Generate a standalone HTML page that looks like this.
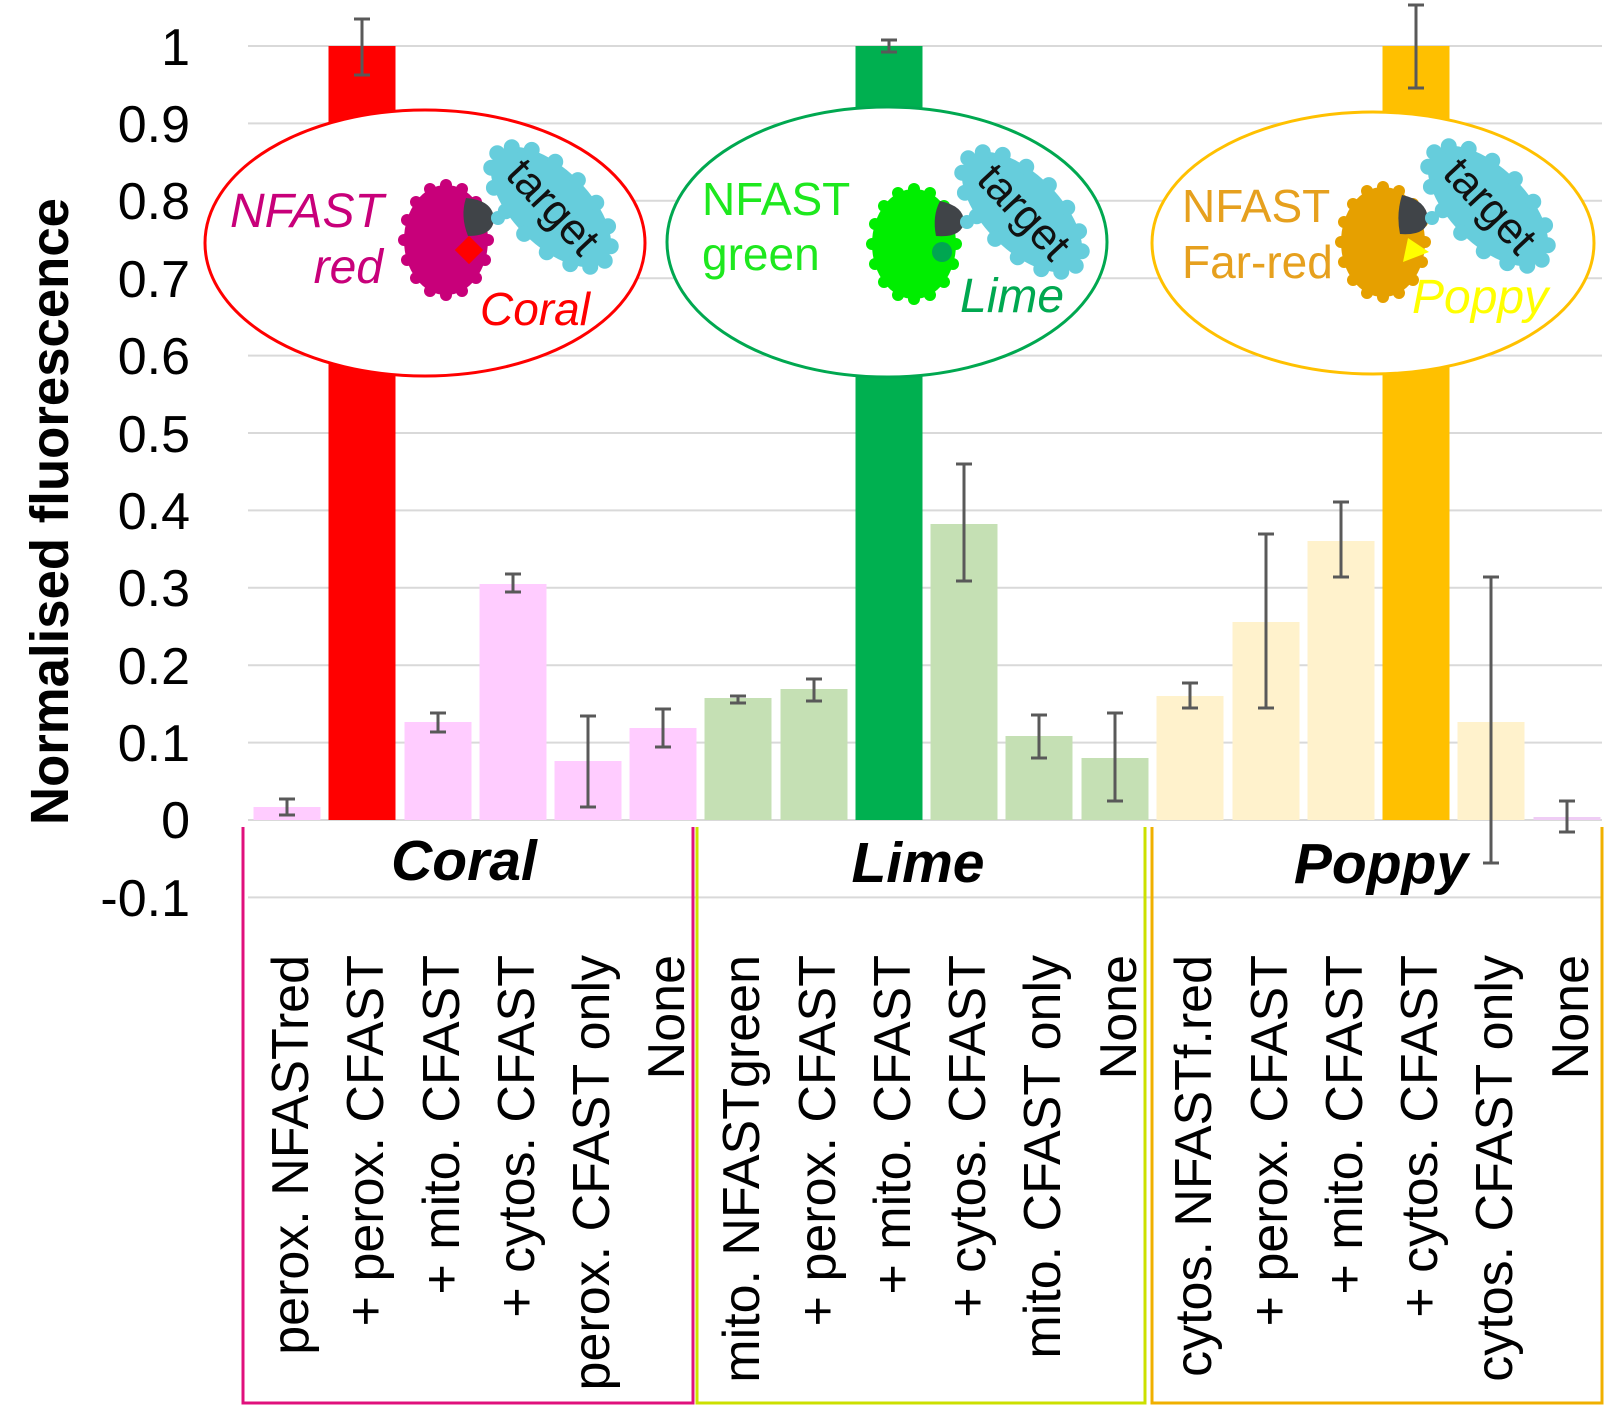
<!DOCTYPE html>
<html>
<head>
<meta charset="utf-8">
<style>
  html, body { margin: 0; padding: 0; background: #ffffff; }
  svg { display: block; }
  text { font-family: "Liberation Sans", Arial, sans-serif; }
</style>
</head>
<body>
<svg width="1611" height="1408" viewBox="0 0 1611 1408" xmlns="http://www.w3.org/2000/svg">
  <defs>
    <g id="blob">
      <ellipse cx="0" cy="0" rx="42" ry="55"/>
      <circle cx="42" cy="0" r="6"/><circle cx="39" cy="20" r="6"/><circle cx="30" cy="38" r="6"/><circle cx="16" cy="51" r="6"/>
      <circle cx="0" cy="55" r="6"/><circle cx="-16" cy="51" r="6"/><circle cx="-30" cy="38" r="6"/><circle cx="-39" cy="20" r="6"/>
      <circle cx="-42" cy="0" r="6"/><circle cx="-39" cy="-20" r="6"/><circle cx="-30" cy="-38" r="6"/><circle cx="-16" cy="-51" r="6"/>
      <circle cx="0" cy="-55" r="6"/><circle cx="16" cy="-51" r="6"/><circle cx="30" cy="-38" r="6"/><circle cx="39" cy="-20" r="6"/>
    </g>
    <g id="cloud">
      <ellipse cx="0" cy="0" rx="76" ry="38"/>
      <circle cx="76" cy="0" r="8"/><circle cx="70" cy="14.5" r="8"/><circle cx="54" cy="26.7" r="8"/><circle cx="29" cy="35" r="8"/>
      <circle cx="0" cy="38" r="8"/><circle cx="-29" cy="35" r="8"/><circle cx="-54" cy="26.7" r="8"/><circle cx="-70" cy="14.5" r="8"/>
      <circle cx="-76" cy="0" r="8"/><circle cx="-70" cy="-14.5" r="8"/><circle cx="-54" cy="-26.7" r="8"/><circle cx="-29" cy="-35" r="8"/>
      <circle cx="0" cy="-38" r="8"/><circle cx="29" cy="-35" r="8"/><circle cx="54" cy="-26.7" r="8"/><circle cx="70" cy="-14.5" r="8"/>
    </g>
  </defs>
  <rect x="0" y="0" width="1611" height="1408" fill="#ffffff"/>

  <!-- gridlines -->
  <g stroke="#d9d9d9" stroke-width="2">
    <line x1="248" y1="46" x2="1602" y2="46"/>
    <line x1="248" y1="123.4" x2="1602" y2="123.4"/>
    <line x1="248" y1="200.8" x2="1602" y2="200.8"/>
    <line x1="248" y1="278.2" x2="1602" y2="278.2"/>
    <line x1="248" y1="355.6" x2="1602" y2="355.6"/>
    <line x1="248" y1="433" x2="1602" y2="433"/>
    <line x1="248" y1="510.4" x2="1602" y2="510.4"/>
    <line x1="248" y1="587.8" x2="1602" y2="587.8"/>
    <line x1="248" y1="665.2" x2="1602" y2="665.2"/>
    <line x1="248" y1="742.6" x2="1602" y2="742.6"/>
    <line x1="248" y1="820" x2="1602" y2="820"/>
    <line x1="248" y1="897.4" x2="1602" y2="897.4"/>
  </g>

  <!-- y tick labels -->
  <g font-size="52" fill="#000" text-anchor="end">
    <text x="190" y="65">1</text>
    <text x="190" y="142">0.9</text>
    <text x="190" y="219">0.8</text>
    <text x="190" y="297">0.7</text>
    <text x="190" y="374">0.6</text>
    <text x="190" y="452">0.5</text>
    <text x="190" y="529">0.4</text>
    <text x="190" y="606">0.3</text>
    <text x="190" y="684">0.2</text>
    <text x="190" y="761">0.1</text>
    <text x="190" y="838">0</text>
    <text x="190" y="916">-0.1</text>
  </g>

  <!-- y axis title -->
  <text transform="translate(68,511.5) rotate(-90)" text-anchor="middle" font-size="54" font-weight="bold" fill="#000" textLength="627" lengthAdjust="spacingAndGlyphs">Normalised fluorescence</text>

  <!-- bars -->
  <g>
    <rect x="253.5" y="807" width="67" height="13" fill="#ffccff"/>
    <rect x="328.5" y="46" width="67" height="774" fill="#ff0000"/>
    <rect x="404.5" y="722" width="67" height="98" fill="#ffccff"/>
    <rect x="479.5" y="584" width="67" height="236" fill="#ffccff"/>
    <rect x="554.5" y="761" width="67" height="59" fill="#ffccff"/>
    <rect x="629.5" y="728" width="67" height="92" fill="#ffccff"/>

    <rect x="704.5" y="698" width="67" height="122" fill="#c5e0b4"/>
    <rect x="780.5" y="689" width="67" height="131" fill="#c5e0b4"/>
    <rect x="855.5" y="46" width="67" height="774" fill="#00b050"/>
    <rect x="930.5" y="524" width="67" height="296" fill="#c5e0b4"/>
    <rect x="1005.5" y="736" width="67" height="84" fill="#c5e0b4"/>
    <rect x="1081.5" y="758" width="67" height="62" fill="#c5e0b4"/>

    <rect x="1156.5" y="696" width="67" height="124" fill="#fff2cc"/>
    <rect x="1232.5" y="622" width="67" height="198" fill="#fff2cc"/>
    <rect x="1307.5" y="541" width="67" height="279" fill="#fff2cc"/>
    <rect x="1382.5" y="46" width="67" height="774" fill="#ffc000"/>
    <rect x="1457.5" y="722" width="67" height="98" fill="#fff2cc"/>
    <rect x="1533.5" y="817" width="67" height="3" fill="#efcdf5"/>
  </g>

  <!-- category boxes -->
  <g fill="none" stroke-width="3">
    <polyline points="243,827 243,1403 693,1403 693,827" stroke="#e0107c"/>
    <polyline points="697,827 697,1403 1145,1403 1145,827" stroke="#cce000"/>
    <polyline points="1152,827 1152,1403 1602,1403 1602,827" stroke="#f0b000"/>
  </g>

  <!-- category names -->
  <g font-size="57" font-weight="bold" font-style="italic" fill="#000" text-anchor="middle">
    <text x="464" y="880">Coral</text>
    <text x="918" y="882">Lime</text>
    <text x="1381" y="883">Poppy</text>
  </g>

  <!-- x labels (rotated) -->
  <g font-size="52" fill="#000" text-anchor="end">
    <text transform="translate(308,955) rotate(-90)">perox. NFASTred</text>
    <text transform="translate(383,955) rotate(-90)">+ perox. CFAST</text>
    <text transform="translate(459,955) rotate(-90)">+ mito. CFAST</text>
    <text transform="translate(534,955) rotate(-90)">+ cytos. CFAST</text>
    <text transform="translate(609,955) rotate(-90)">perox. CFAST only</text>
    <text transform="translate(684,955) rotate(-90)">None</text>

    <text transform="translate(759,955) rotate(-90)">mito. NFASTgreen</text>
    <text transform="translate(835,955) rotate(-90)">+ perox. CFAST</text>
    <text transform="translate(910,955) rotate(-90)">+ mito. CFAST</text>
    <text transform="translate(985,955) rotate(-90)">+ cytos. CFAST</text>
    <text transform="translate(1060,955) rotate(-90)">mito. CFAST only</text>
    <text transform="translate(1136,955) rotate(-90)">None</text>

    <text transform="translate(1211,955) rotate(-90)">cytos. NFASTf.red</text>
    <text transform="translate(1287,955) rotate(-90)">+ perox. CFAST</text>
    <text transform="translate(1362,955) rotate(-90)">+ mito. CFAST</text>
    <text transform="translate(1437,955) rotate(-90)">+ cytos. CFAST</text>
    <text transform="translate(1512,955) rotate(-90)">cytos. CFAST only</text>
    <text transform="translate(1588,955) rotate(-90)">None</text>
  </g>

  <!-- ===== Ellipses with diagrams ===== -->
  <!-- Coral -->
  <ellipse cx="425" cy="243" rx="220" ry="133" fill="#ffffff" stroke="#ff0000" stroke-width="3"/>
  <g font-size="48" font-style="italic" fill="#c8007a">
    <text x="230" y="227">NFAST</text>
    <text x="383" y="283" text-anchor="end">red</text>
  </g>
  <use href="#blob" transform="translate(446,240)" fill="#c8007a"/>
  <path d="M466,198 Q492,200 494,218 Q494,236 468,236 Q460,216 466,198 Z" fill="#404448"/>
  <rect x="459" y="240" width="20" height="20" fill="#ff0000" transform="rotate(45 469 250)"/>
  <circle cx="498" cy="218" r="7" fill="#66cddc"/>
  <use href="#cloud" transform="translate(551,207) rotate(45)" fill="#66cddc"/>
  <text transform="translate(553,207) rotate(47)" text-anchor="middle" dominant-baseline="central" font-size="44" fill="#111">target</text>
  <text x="480" y="325" font-size="46" font-style="italic" fill="#ff0000">Coral</text>

  <!-- Lime -->
  <ellipse cx="887" cy="242" rx="220" ry="135" fill="#ffffff" stroke="#00a850" stroke-width="3"/>
  <g font-size="46" fill="#1ee81e">
    <text x="702" y="215">NFAST</text>
    <text x="702" y="270">green</text>
  </g>
  <use href="#blob" transform="translate(914,244)" fill="#00ee00"/>
  <path d="M940,201 Q964,206 964,222 Q962,238 936,236 Q932,216 940,201 Z" fill="#404448"/>
  <circle cx="942" cy="252" r="10" fill="#00a651"/>
  <circle cx="967" cy="222" r="7" fill="#66cddc"/>
  <use href="#cloud" transform="translate(1022,212) rotate(45)" fill="#66cddc"/>
  <text transform="translate(1024,212) rotate(47)" text-anchor="middle" dominant-baseline="central" font-size="44" fill="#111">target</text>
  <text x="960" y="312" font-size="48" font-style="italic" fill="#00a850">Lime</text>

  <!-- Poppy -->
  <ellipse cx="1373" cy="243" rx="221" ry="131" fill="#ffffff" stroke="#ffc000" stroke-width="3"/>
  <g font-size="46" fill="#e6a01e">
    <text x="1182" y="222">NFAST</text>
    <text x="1182" y="278">Far-red</text>
  </g>
  <use href="#blob" transform="translate(1383,242)" fill="#e6a000"/>
  <path d="M1402,195 Q1426,200 1428,218 Q1428,236 1400,234 Q1396,214 1402,195 Z" fill="#404448"/>
  <polygon points="1408,238 1429,252 1403,262" fill="#ffff00"/>
  <circle cx="1432" cy="218" r="7" fill="#66cddc"/>
  <use href="#cloud" transform="translate(1488,206) rotate(45)" fill="#66cddc"/>
  <text transform="translate(1490,206) rotate(47)" text-anchor="middle" dominant-baseline="central" font-size="44" fill="#111">target</text>
  <text x="1412" y="313" font-size="48" font-style="italic" fill="#ffff00">Poppy</text>

  <!-- error bars -->
  <g stroke="#595959" stroke-width="3" fill="none">
    <path d="M287,799 V815 M279,799 H295 M279,815 H295"/>
    <path d="M362,19 V75 M354,19 H370 M354,75 H370"/>
    <path d="M438,713 V732 M430,713 H446 M430,732 H446"/>
    <path d="M513,574 V592 M505,574 H521 M505,592 H521"/>
    <path d="M588,716 V807 M580,716 H596 M580,807 H596"/>
    <path d="M663,709 V747 M655,709 H671 M655,747 H671"/>

    <path d="M738,696 V703 M730,696 H746 M730,703 H746"/>
    <path d="M814,679 V701 M806,679 H822 M806,701 H822"/>
    <path d="M889,40 V52 M881,40 H897 M881,52 H897"/>
    <path d="M964,464 V581 M956,464 H972 M956,581 H972"/>
    <path d="M1039,715 V758 M1031,715 H1047 M1031,758 H1047"/>
    <path d="M1115,713 V801 M1107,713 H1123 M1107,801 H1123"/>

    <path d="M1190,683 V708 M1182,683 H1198 M1182,708 H1198"/>
    <path d="M1266,534 V708 M1258,534 H1274 M1258,708 H1274"/>
    <path d="M1341,502 V577 M1333,502 H1349 M1333,577 H1349"/>
    <path d="M1416,5 V88 M1408,5 H1424 M1408,88 H1424"/>
    <path d="M1491,577 V863 M1483,577 H1499 M1483,863 H1499"/>
    <path d="M1567,801 V832 M1559,801 H1575 M1559,832 H1575"/>
  </g>
</svg>
</body>
</html>
